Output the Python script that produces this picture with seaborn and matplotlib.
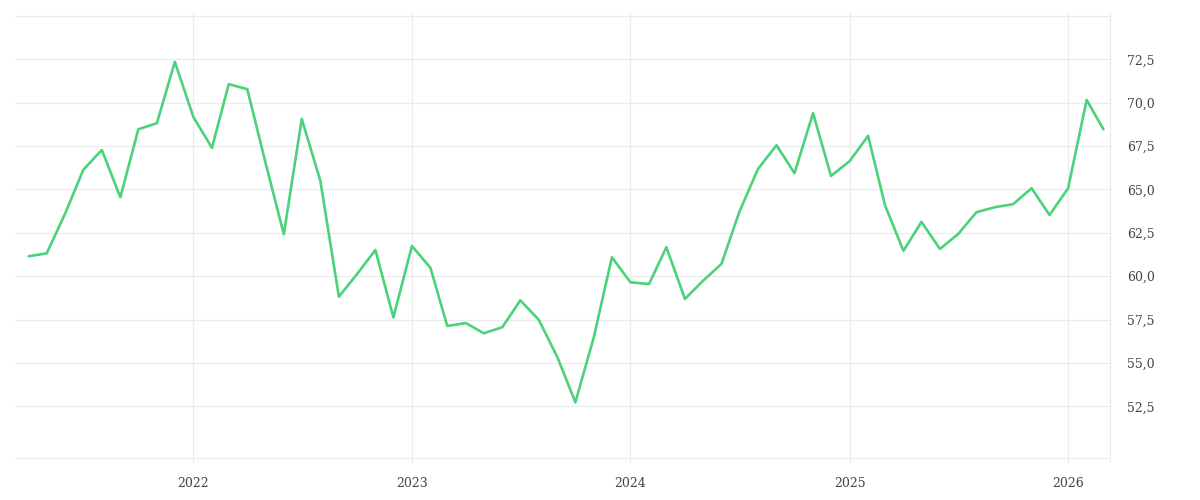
import matplotlib
matplotlib.use("Agg")
import matplotlib.pyplot as plt
import matplotlib.dates as mdates
import matplotlib.ticker as mtick
import numpy as np
import pandas as pd
import seaborn as sns

# ─── Data (monthly) ───────────────────────────────────────────────
START_MONTH = "2021-04-01"
END_MONTH = "2026-03-01"

values = [
    # 2021 (Apr-Dec)
    61.15, 61.32, 63.63, 66.13, 67.28, 64.55, 68.47, 68.82, 72.36,
    # 2022
    69.17, 67.40, 71.07, 70.78, 66.60, 62.42, 69.07, 65.50, 58.82, 60.11, 61.51, 57.63,
    # 2023
    61.74, 60.48, 57.13, 57.30, 56.71, 57.06, 58.61, 57.48, 55.33, 52.73, 56.51, 61.09,
    # 2024
    59.65, 59.55, 61.67, 58.69, 59.73, 60.71, 63.72, 66.18, 67.55, 65.94, 69.40, 65.78,
    # 2025
    66.63, 68.09, 64.11, 61.46, 63.13, 61.57, 62.42, 63.69, 63.98, 64.15, 65.07, 63.53,
    # 2026 (Jan-Mar)
    65.07, 70.16, 68.47,
]

year_ticks = ["2022", "2023", "2024", "2025", "2026"]
y_ticks = [52.5, 55.0, 57.5, 60.0, 62.5, 65.0, 67.5, 70.0, 72.5]

LINE_COLOR = "#4CD27A"
GRID_COLOR = "#EBEBEB"
TEXT_COLOR = "#444444"

df = pd.DataFrame({
    "date": pd.date_range(START_MONTH, END_MONTH, freq="MS"),
    "value": values,
})

# ─── Plot ─────────────────────────────────────────────────────────
sns.set_theme(style="white")
plt.rcParams["font.family"] = ["DejaVu Serif", "DejaVu Sans"]

fig = plt.figure(figsize=(12, 5), dpi=100)
ax = fig.add_axes([0.0125, 0.084, 0.9125, 0.884])

sns.lineplot(data=df, x="date", y="value", color=LINE_COLOR, linewidth=1.9, ax=ax)

x_left, x_right = pd.Timestamp("2021-03-09"), pd.Timestamp("2026-03-12")
ax.set_xlim(x_left, x_right)
ax.set_ylim(49.52, 75.0)

year_dates = [pd.Timestamp(f"{y}-01-01") for y in year_ticks]
ax.set_xticks(year_dates)
ax.xaxis.set_major_formatter(mdates.DateFormatter("%Y"))
ax.set_yticks(y_ticks)
ax.yaxis.set_major_formatter(mtick.FuncFormatter(lambda v, _: f"{v:.1f}".replace(".", ",")))
ax.yaxis.tick_right()

ax.tick_params(axis="x", length=0, pad=14, labelsize=9, colors=TEXT_COLOR)
ax.tick_params(axis="y", length=0, pad=12, labelsize=9, colors=TEXT_COLOR)
for lab in ax.get_yticklabels():
    lab.set_horizontalalignment("left")

# horizontal grid inside the axes, vertical lines run a little past top/bottom
ax.grid(True, axis="y", color=GRID_COLOR, linewidth=0.8)
for d in year_dates + [x_right]:
    ax.axvline(d, ymin=-0.009, ymax=1.009, color=GRID_COLOR, linewidth=0.8,
               clip_on=False, zorder=0)
ax.set_axisbelow(True)
ax.set_xlabel("")
ax.set_ylabel("")

for side in ["top", "bottom"]:
    ax.spines[side].set_visible(True)
    ax.spines[side].set_color(GRID_COLOR)
    ax.spines[side].set_linewidth(0.8)
ax.spines["left"].set_visible(False)
ax.spines["right"].set_visible(False)

fig.savefig("out.png", dpi=100)
plt.close(fig)
